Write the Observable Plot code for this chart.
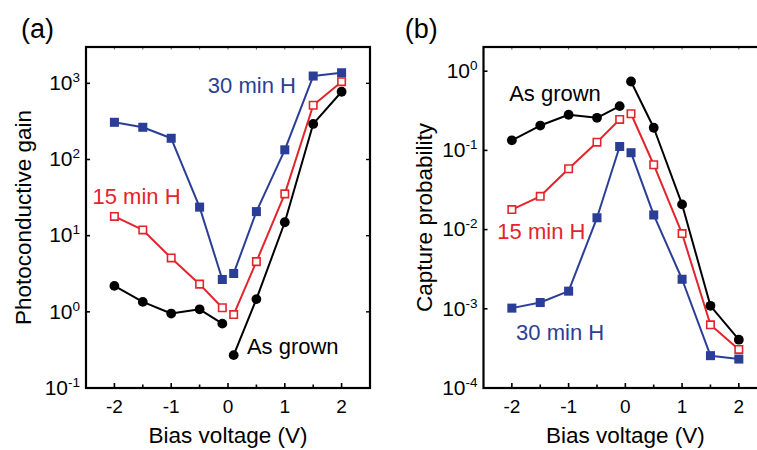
<!DOCTYPE html>
<html><head><meta charset="utf-8">
<script src="https://cdn.jsdelivr.net/npm/d3@7"></script>
<script src="https://cdn.jsdelivr.net/npm/@observablehq/plot@0.6"></script>
<style>
html,body{margin:0;padding:0;background:#fff;}
#wrap{position:relative;width:757px;height:450px;overflow:hidden;font-family:"Liberation Sans",Arial,Helvetica,sans-serif;}
#wrap svg{position:absolute;top:0;}
</style></head><body><div id="wrap"></div>
<script>
// ---- data ----
const voltages = [-2, -1.5, -1, -0.5, -0.1, 0.1, 0.5, 1, 1.5, 2];
const seriesNames = ["As grown", "15 min H", "30 min H"];
// (a) photoconductive gain
const gainAsGrown = [2.19, 1.35, 0.95, 1.08, 0.70, 0.27, 1.47, 15, 293, 776];
const gain15minH  = [17.9, 11.9, 5.1, 2.31, 1.13, 0.92, 4.56, 35.4, 515, 1051];
const gain30minH  = [308, 265, 190, 23.7, 2.66, 3.19, 20.7, 134, 1247, 1377];
// (b) capture probability
const capAsGrown = [0.134, 0.206, 0.282, 0.258, 0.362, 0.741, 0.193, 0.0208, 0.00109, 0.000407];
const cap15minH  = [0.0179, 0.0263, 0.0587, 0.127, 0.246, 0.290, 0.0659, 0.0089, 0.000628, 0.000307];
const cap30minH  = [0.00102, 0.00120, 0.00167, 0.0141, 0.112, 0.0935, 0.0153, 0.00236, 0.000256, 0.000232];
// ticks
const xMajorTicks = [-2, -1, 0, 1, 2];
const xMinorTicks = [-1.5, -0.5, 0.5, 1.5];
const yTicksA = [0.1, 1, 10, 100, 1000];
const yTicksB = [0.0001, 0.001, 0.01, 0.1, 1];
// series annotations (data-space anchors)
const annotA = [
  {series: "30 min H", v: 0.42, value: 912},
  {series: "15 min H", v: -1.61, value: 32},
  {series: "As grown", v: 1.14, value: 0.349}
];
const annotB = [
  {series: "As grown", v: -1.24, value: 0.523},
  {series: "15 min H", v: -1.48, value: 0.00935},
  {series: "30 min H", v: -1.15, value: 0.000494}
];

// ---- style ----
const FONT = '"Liberation Sans", Arial, Helvetica, sans-serif';
const colors = {"As grown": "#000000", "15 min H": "#e3242b", "30 min H": "#2b3e95"};

function toRows(seriesArrays) {
  const rows = [];
  seriesNames.forEach((s, i) => voltages.forEach((v, j) => rows.push({series: s, v, value: seriesArrays[i][j]})));
  return rows;
}

function panel({rows, yDomain, yTicks, width, left, marginLeft, marginRight, yLabel, yLabelDx, tag, tagDx, annots}) {
  const H = 450, mt = 46.5, mb = 62.5;
  const innerH = H - mt - mb, innerW = width - marginLeft - marginRight;
  const marks = [];
  // tick marks, inward on all sides
  marks.push(Plot.tickX(xMajorTicks, {x: d => d, insetTop: innerH - 4.5, stroke: "black", strokeWidth: 1.6}));
  marks.push(Plot.tickX(xMinorTicks, {x: d => d, insetTop: innerH - 3, stroke: "black", strokeWidth: 1.6}));
  marks.push(Plot.tickX(xMajorTicks, {x: d => d, insetBottom: innerH - 3, stroke: "#555", strokeWidth: 1}));
  marks.push(Plot.tickX(xMinorTicks, {x: d => d, insetBottom: innerH - 3, stroke: "#555", strokeWidth: 1}));
  marks.push(Plot.tickY(yTicks, {y: d => d, insetRight: innerW - 4.5, stroke: "black", strokeWidth: 1.6}));
  marks.push(Plot.tickY(yTicks, {y: d => d, insetLeft: innerW - 3.5, stroke: "black", strokeWidth: 1.4}));
  marks.push(Plot.frame({stroke: "black", strokeWidth: 2.2}));
  // tick labels
  marks.push(Plot.text(xMajorTicks, {x: d => d, frameAnchor: "bottom", lineAnchor: "middle", textAnchor: "middle", text: d => String(d), dy: 18.5, fontSize: 19, fill: "black"}));
  marks.push(Plot.text(yTicks, {y: d => d, frameAnchor: "left", lineAnchor: "middle", text: d => "10^" + Math.round(Math.log10(d)), textAnchor: "end", dx: -6, fontSize: 21, fill: "black"}));
  // axis labels
  marks.push(Plot.text(["Bias voltage (V)"], {frameAnchor: "bottom", lineAnchor: "middle", textAnchor: "middle", dy: 47.5, fontSize: 22.5, fill: "black"}));
  marks.push(Plot.text([yLabel], {frameAnchor: "left", lineAnchor: "middle", textAnchor: "middle", rotate: -90, dx: yLabelDx, fontSize: 22.5, fill: "black"}));
  // panel tag
  marks.push(Plot.text([tag], {frameAnchor: "top-left", lineAnchor: "middle", textAnchor: "middle", dx: tagDx, dy: -18, fontSize: 27, fill: "black"}));
  // series
  for (const s of seriesNames) {
    const d = rows.filter(r => r.series === s);
    marks.push(Plot.line(d, {x: "v", y: "value", z: r => (r.v < 0 ? "n" : "p"), stroke: colors[s], strokeWidth: 2}));
  }
  for (const s of seriesNames) {
    const d = rows.filter(r => r.series === s);
    if (s === "As grown") marks.push(Plot.dot(d, {x: "v", y: "value", r: 4.9, fill: "black", stroke: "none"}));
    else if (s === "15 min H") marks.push(Plot.dot(d, {x: "v", y: "value", symbol: "square", r: 4.2, fill: "white", stroke: colors[s], strokeWidth: 1.6}));
    else marks.push(Plot.dot(d, {x: "v", y: "value", symbol: "square", r: 5.1, fill: colors[s], stroke: "none"}));
  }
  // annotations
  marks.push(Plot.text(annots, {x: "v", y: "value", text: "series", lineAnchor: "middle", textAnchor: "middle", fill: d => colors[d.series], fontSize: 22}));

  const svg = Plot.plot({
    width, height: H, marginLeft, marginRight, marginTop: mt, marginBottom: mb,
    style: {fontFamily: FONT, background: "transparent", overflow: "visible"},
    x: {domain: [-2.5, 2.5], axis: null},
    y: {type: "log", domain: yDomain, axis: null},
    marks
  });
  svg.style.left = left + "px";
  // superscript exponents on y tick labels
  d3.select(svg).selectAll("text").each(function () {
    const t = this.textContent;
    if (!/^10\^/.test(t)) return;
    const exp = t.split("^")[1];
    const sel = d3.select(this);
    sel.text("10");
    sel.append("tspan").attr("dy", -8).attr("font-size", 13.5).text(exp);
  });
  return svg;
}

const wrap = document.getElementById("wrap");
wrap.appendChild(panel({
  rows: toRows([gainAsGrown, gain15minH, gain30minH]),
  yDomain: [0.1, 3000], yTicks: yTicksA,
  width: 378, left: 0, marginLeft: 85.5, marginRight: 8.5,
  yLabel: "Photoconductive gain", yLabelDx: -62, tag: "(a)", tagDx: -48.5, annots: annotA
}));
wrap.appendChild(panel({
  rows: toRows([capAsGrown, cap15minH, cap30minH]),
  yDomain: [0.0001, 2.02], yTicks: yTicksB,
  width: 400, left: 378, marginLeft: 105, marginRight: 11.3,
  yLabel: "Capture probability", yLabelDx: -58.5, tag: "(b)", tagDx: -62.2, annots: annotB
}));
</script>
</body></html>
